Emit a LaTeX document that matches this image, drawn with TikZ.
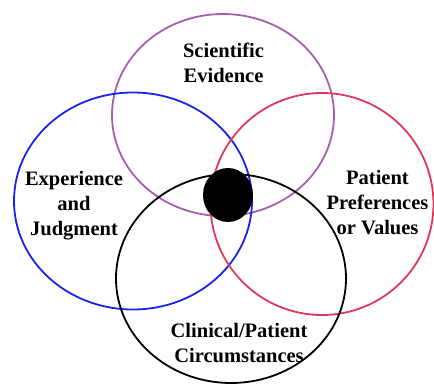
\documentclass[tikz,border=0pt]{standalone}
\usepackage{fontspec}
\setmainfont{Liberation Serif}
\definecolor{evpurple}{RGB}{165,95,175}
\definecolor{exblue}{RGB}{25,35,235}
\definecolor{prpink}{RGB}{225,55,95}
\tikzset{
  ring/.style={line width=1.8pt},
  venntext/.style={align=center, inner sep=0pt,
    font=\bfseries\fontsize{20.5}{25}\selectfont}
}
\begin{document}
\begin{tikzpicture}[x=1pt, y=-1pt]
       \useasboundingbox (0,0) rectangle (434,385);
       \draw[ring, evpurple] (223,115) ellipse (111 and 101);
       \draw[ring, exblue] (133,201) ellipse (119 and 108.5);
       \draw[ring, prpink] (322,204) ellipse (111.5 and 111);
       \draw[ring, black] (231,278.5) ellipse (115 and 104.5);
       \fill[black] (228,195) ellipse (25 and 27);

       \node[venntext] (evidence) at (223.5,63) {Scientific\\Evidence};
       \node[venntext] (judgment) at (74,206) {Experience\\and\\Judgment};
       \node[venntext] (values) at (377.5,202.5) {Patient\\Preferences\\or Values};
       \node[venntext] (circum) at (239,343) {Clinical/Patient\\Circumstances};
     \end{tikzpicture}
\end{document}
